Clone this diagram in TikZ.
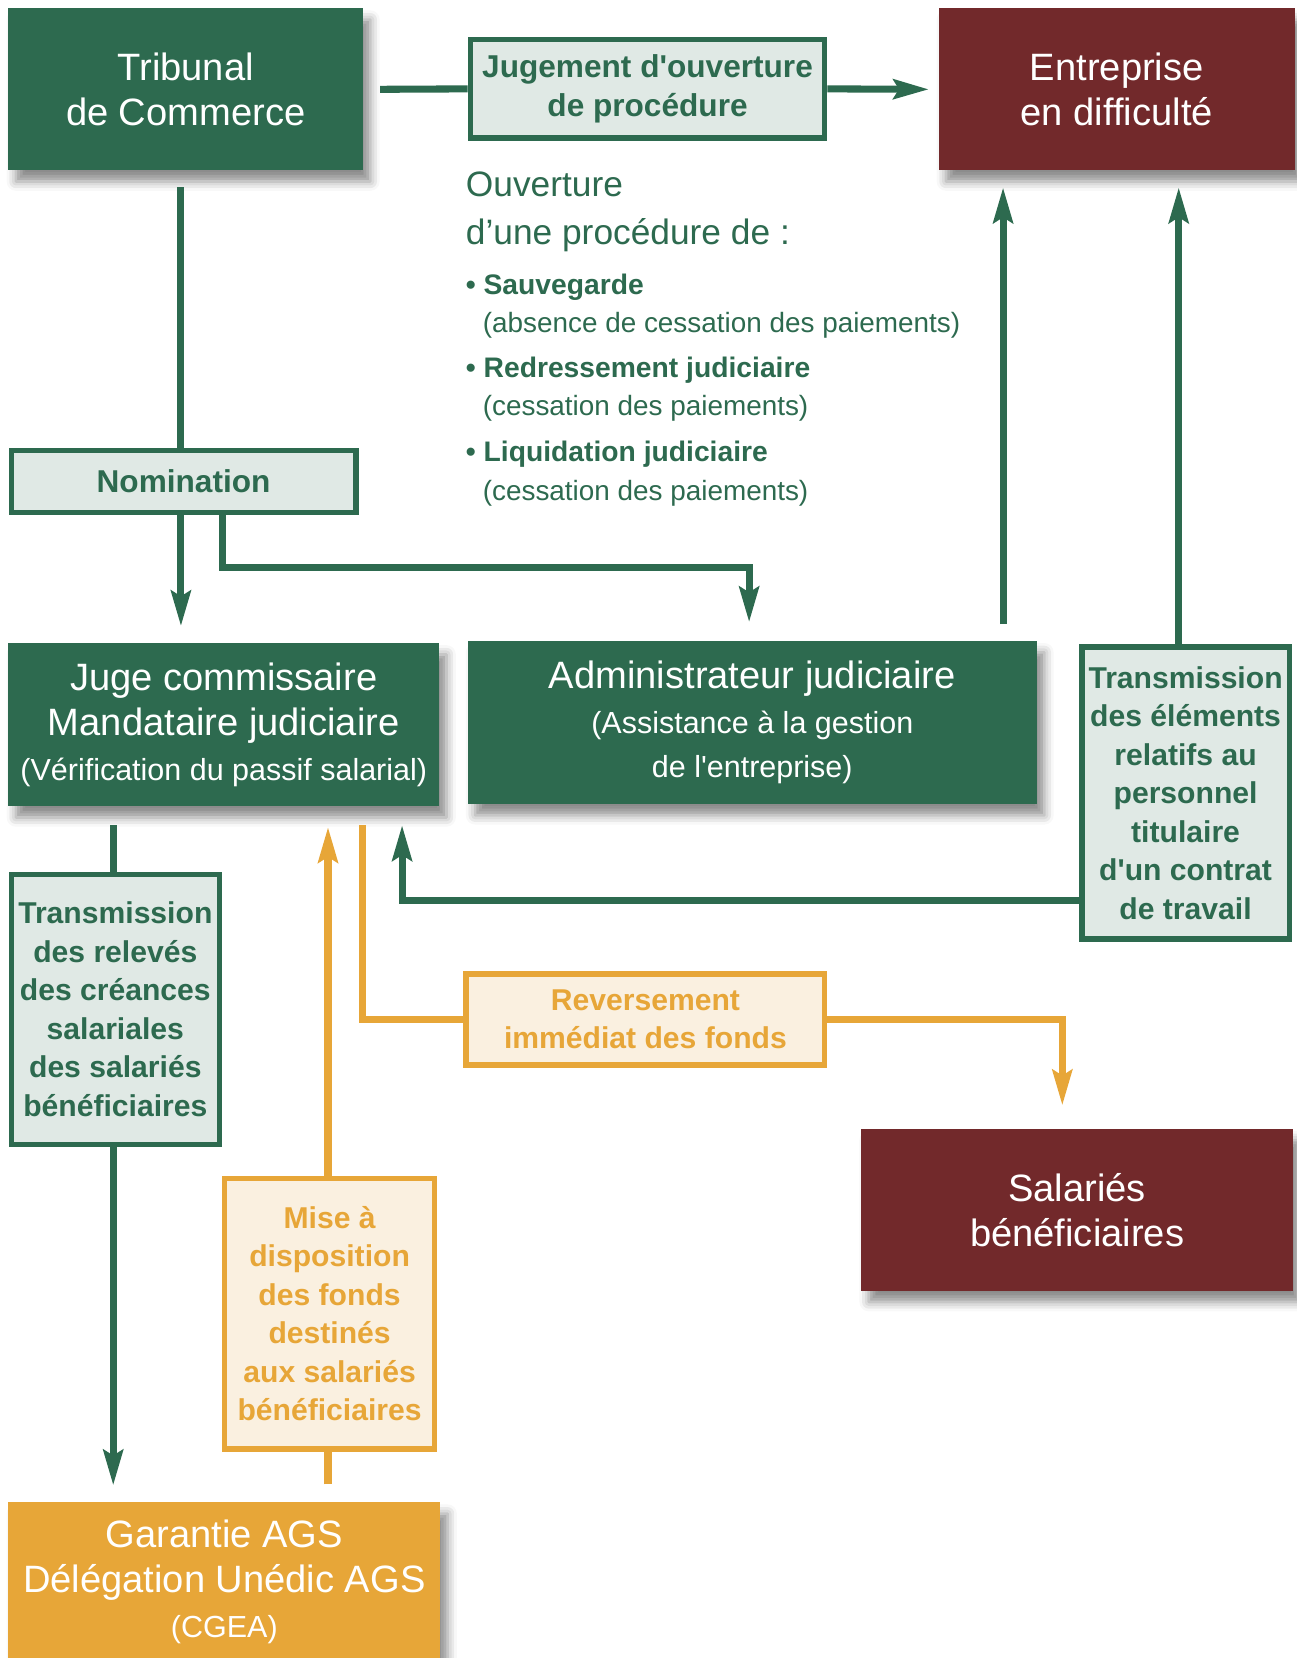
\documentclass[tikz,border=0pt]{standalone}
\usepackage{fontspec}
\setmainfont{Liberation Sans}
\usetikzlibrary{arrows.meta,shadows.blur}

\definecolor{procgreen}{RGB}{45,106,79}
\definecolor{procred}{RGB}{114,41,43}
\definecolor{procorange}{RGB}{231,166,56}
\definecolor{lightgreen}{RGB}{224,233,229}
\definecolor{lightcream}{RGB}{250,240,224}

\newcommand{\pxunit}{0.02cm}
\newcommand{\bigtxt}{\fontsize{20.5}{24}\selectfont}
\newcommand{\smalltxt}{\fontsize{16.4}{24}\selectfont}
\newcommand{\boldtxt}{\fontsize{16.2}{20.7}\selectfont\bfseries}

\begin{document}
\begin{tikzpicture}[x=0.02cm, y=-0.02cm]
\tikzstyle{darkbox}=[inner sep=0pt, align=center, text=white, font=\bigtxt,
  blur shadow={shadow xshift=4pt, shadow yshift=-6pt, shadow blur radius=5pt, shadow opacity=45}];
\tikzstyle{greenbox}=[darkbox, fill=procgreen];
\tikzstyle{redbox}=[darkbox, fill=procred];
\tikzstyle{agsbox}=[darkbox, fill=procorange];
\tikzstyle{labelbox}=[inner sep=0pt, align=center, draw=procgreen, line width=2.8pt, fill=lightgreen, text=procgreen, font=\boldtxt];
\tikzstyle{fundbox}=[labelbox, draw=procorange, fill=lightcream, text=procorange];
\tikzstyle{listtxt}=[inner sep=0pt, anchor=base west, text=procgreen];
\tikzstyle{gline}=[draw=procgreen, line width=3.8pt];
\tikzstyle{oline}=[draw=procorange, line width=3.8pt];
\tikzstyle{arrowend}=[-{Stealth[length=19pt,width=10.5pt,inset=3pt]}];
\tikzstyle{gapstart}=[shorten <=9pt];
\tikzstyle{gapend}=[shorten >=9pt];

\useasboundingbox (0,0) rectangle (1225,1567);

% boxes
\path (175.5,84.5) node[greenbox, minimum width=335*\pxunit, minimum height=153*\pxunit] (trib) {Tribunal\\de Commerce};
\path (612,84) node[labelbox, font=\fontsize{17}{21}\selectfont\bfseries, minimum width=335*\pxunit, minimum height=93*\pxunit] (jug) {Jugement d\textquotesingle ouverture\\de procédure};
\path (1055.5,84.5) node[redbox, minimum width=337*\pxunit, minimum height=153*\pxunit] (entr) {Entreprise\\en difficulté};
\path (173.5,455) node[labelbox, font=\fontsize{17}{21}\selectfont\bfseries, minimum width=326*\pxunit, minimum height=59*\pxunit] (nom) {Nomination};
\path (211.5,685) node[greenbox, minimum width=407*\pxunit, minimum height=154*\pxunit] (juge) {Juge commissaire\\Mandataire judiciaire\\{\smalltxt (Vérification du passif salarial)}};
\path (711,683) node[greenbox, minimum width=538*\pxunit, minimum height=154*\pxunit] (adm) {Administrateur judiciaire\\{\smalltxt (Assistance à la gestion}\\{\smalltxt de l\textquotesingle entreprise)}};
\path (1120.5,749.5) node[labelbox, minimum width=196*\pxunit, minimum height=276*\pxunit] (transR) {Transmission\\des éléments\\relatifs au\\personnel\\titulaire\\d\textquotesingle un contrat\\de travail};
\path (109,954) node[labelbox, minimum width=197*\pxunit, minimum height=255*\pxunit] (transL) {Transmission\\des relevés\\des créances\\salariales\\des salariés\\bénéficiaires};
\path (311.5,1241.5) node[fundbox, minimum width=198*\pxunit, minimum height=256*\pxunit] (mise) {Mise à\\disposition\\des fonds\\destinés\\aux salariés\\bénéficiaires};
\path (610,963.5) node[fundbox, minimum width=339*\pxunit, minimum height=86*\pxunit] (rev) {Reversement\\immédiat des fonds};
\path (1018,1143.5) node[redbox, minimum width=408*\pxunit, minimum height=153*\pxunit] (sal) {Salariés\\bénéficiaires};
\path (212,1495) node[agsbox, minimum width=408*\pxunit, minimum height=150*\pxunit] (ags) {Garantie AGS\\Délégation Unédic AGS\\{\smalltxt (CGEA)}};

% procedures
\path (440,186) node[listtxt, font=\fontsize{19}{24}\selectfont] (ouv1) {Ouverture};
\path (440,231.5) node[listtxt, font=\fontsize{19}{24}\selectfont] (ouv2) {d’une procédure de :};
\path (440,278) node[listtxt, font=\fontsize{15.2}{20}\selectfont\bfseries] (sauv) {• Sauvegarde};
\path (456,314) node[listtxt, font=\fontsize{15}{20}\selectfont] (sauvinfo) {(absence de cessation des paiements)};
\path (440,357) node[listtxt, font=\fontsize{15.2}{20}\selectfont\bfseries] (redr) {• Redressement judiciaire};
\path (456,393) node[listtxt, font=\fontsize{15}{20}\selectfont] (redrinfo) {(cessation des paiements)};
\path (440,436.5) node[listtxt, font=\fontsize{15.2}{20}\selectfont\bfseries] (liqu) {• Liquidation judiciaire};
\path (456,473) node[listtxt, font=\fontsize{15}{20}\selectfont] (liquinfo) {(cessation des paiements)};

% green links
\draw[gline, gapstart] (trib.east) -- (jug.west);
\draw[gline, arrowend, shorten >=5pt] (jug.east) -- (entr.west);
\draw[gline, gapstart] (trib.south -| 171,0) -- (nom.north -| 171,0);
\draw[gline, arrowend, gapend] (nom.south -| 171,0) -- (juge.north -| 171,0);
\draw[gline, arrowend, shorten >=10pt] (nom.south -| 210,0) -- (210,536) -| (adm.north -| 708,0);
\draw[gline, arrowend, gapstart, gapend] (adm.north -| 948,0) -- (entr.south -| 948,0);
\draw[gline, arrowend, gapend] (transR.north -| 1114,0) -- (entr.south -| 1114,0);
\draw[gline, arrowend, shorten >=10pt] (transR.west |- 0,851) -| (juge.south -| 380,0);
\draw[gline, shorten <=10pt] (juge.south -| 107,0) -- (transL.north -| 107,0);
\draw[gline, arrowend, gapend] (transL.south -| 107,0) -- (ags.north -| 107,0);

% orange links
\draw[oline, shorten <=9.5pt] (ags.north -| 310,0) -- (mise.south -| 310,0);
\draw[oline, arrowend, shorten >=11pt] (mise.north -| 310,0) -- (juge.south -| 310,0);
\draw[oline, shorten <=10pt] (juge.south -| 343,0) |- (rev.west);
\draw[oline, arrowend, shorten >=12.5pt] (rev.east) -| (sal.north -| 1004,0);
\end{tikzpicture}
\end{document}
